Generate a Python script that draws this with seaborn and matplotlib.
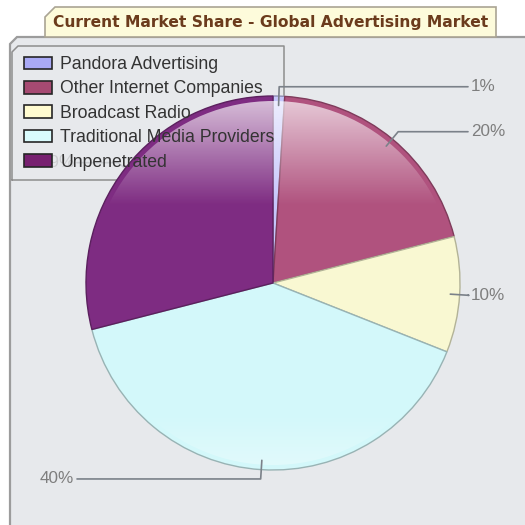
import numpy as np
import matplotlib
matplotlib.use("Agg")
import matplotlib.pyplot as plt
import seaborn as sns
from matplotlib.patches import Circle, Polygon, Patch

# Market share data
categories = ["Pandora Advertising", "Other Internet Companies", "Broadcast Radio",
              "Traditional Media Providers", "Unpenetrated"]
shares = [1, 20, 10, 40, 29]
slice_colors = ["#c6c6fb", "#b0527e", "#f9f8d2", "#d3f8fa", "#7e2c82"]
swatch_colors = ["#a9a9f6", "#a64a72", "#fffbd0", "#d9fbfd", "#772070"]
title = "Current Market Share - Global Advertising Market"

W = 525
sns.set_theme(style="white")
plt.rcParams["font.family"] = ["Liberation Sans", "DejaVu Sans"]

fig = plt.figure(figsize=(5.25, 5.25), dpi=100, facecolor="white")
ax = fig.add_axes([0, 0, 1, 1])


def Y(p):
    """Convert a row measured from the top into a data y value."""
    return W - p


bg = "#e7e9ec"
# chart panel
ax.add_patch(Polygon([(10, Y(44)), (17, Y(37)), (W, Y(37)), (W, 0), (10, 0)],
                     closed=True, fc=bg, ec="none", zorder=0))
ax.plot([10, 10, 17, W], [0, Y(44), Y(37), Y(37)], color="#9c9c9c", lw=1.6,
        zorder=0.5, solid_joinstyle="miter")

# title tab
ax.add_patch(Polygon([(45, Y(37)), (45, Y(17)), (55, Y(7)), (496, Y(7)), (496, Y(37))],
                     closed=True, fc="#fdfbdb", ec="#aaa494", lw=1.2, zorder=1))
ax.text(270.5, Y(22), title, ha="center", va="center", fontsize=11.2,
        fontweight="bold", family="DejaVu Sans", color="#6b3b1c", zorder=2)

cx, cy, r = 273, Y(283), 187

# legend frame (sits under the pie)
ax.add_patch(Polygon([(12, Y(52)), (18, Y(46)), (284, Y(46)), (284, Y(180)), (12, Y(180))],
                     closed=True, fc=bg, alpha=0.75, ec="none", zorder=2))
ax.plot([12, 12, 18, 284, 284, 12], [Y(180), Y(52), Y(46), Y(46), Y(180), Y(180)],
        color="#8e8e8e", lw=1.1, zorder=2.1)

wedges, _ = ax.pie(shares, colors=slice_colors, startangle=90, counterclock=False,
                   center=(cx, cy), radius=r, frame=False,
                   wedgeprops=dict(linewidth=1.0, zorder=3))
for w, c in zip(wedges, slice_colors):
    rgb = np.array(matplotlib.colors.to_rgb(c))
    w.set_edgecolor(tuple(rgb * 0.72))
    w.set_zorder(3)

# glossy highlight over the upper part and a soft lift near the bottom rim
rows = np.linspace(cy + r, cy - r, 400)
pix = W - rows
alpha = np.clip((205 - pix) / 110, 0, 1) * 0.72
alpha += np.clip((pix - 415) / 55, 0, 1) * 0.35
img = np.ones((len(rows), 2, 4))
img[:, :, 3] = alpha[:, None]
gloss = ax.imshow(img, extent=[cx - r, cx + r, cy - r, cy + r], origin="upper",
                  interpolation="bilinear", zorder=3.5, aspect="auto")
gloss.set_clip_path(Circle((cx, cy), r - 5, transform=ax.transData))

# percentage labels with elbow leader lines
line_c, text_c = "#7b8189", "#7e7e7e"
for w, v in zip(wedges, shares):
    th = np.deg2rad((w.theta1 + w.theta2) / 2)
    c, s = np.cos(th), np.sin(th)
    x0, y0 = cx + 0.95 * r * c, cy + 0.95 * r * s
    x1, y1 = cx + 1.05 * r * c, cy + 1.05 * r * s
    if c >= 0:
        xe, xt, ha = 468, 471, "left"
    else:
        xe, xt, ha = 77, 74, "right"
    z = 1.5 if c < 0 and s > 0 else 4
    ax.plot([x0, x1, xe], [y0, y1, y1], color=line_c, lw=1.2, zorder=z)
    ax.text(xt, y1, f"{v}%", ha=ha, va="center", fontsize=12.3, color=text_c, zorder=z)

handles = [Patch(fc=c, ec="#262626", lw=1.2) for c in swatch_colors]
leg = ax.legend(handles, categories, loc="upper left",
                bbox_to_anchor=(24 / W, 1 - 56 / W), frameon=False, fontsize=12.7,
                handlelength=1.6, handleheight=0.72, handletextpad=0.45,
                labelspacing=0.42, borderpad=0, borderaxespad=0, labelcolor="#333333")
leg.set_zorder(5)

ax.set_xlim(0, W)
ax.set_ylim(0, W)
ax.set_aspect("equal")
ax.set_axis_off()
fig.savefig("out.png", dpi=100, facecolor="white")
